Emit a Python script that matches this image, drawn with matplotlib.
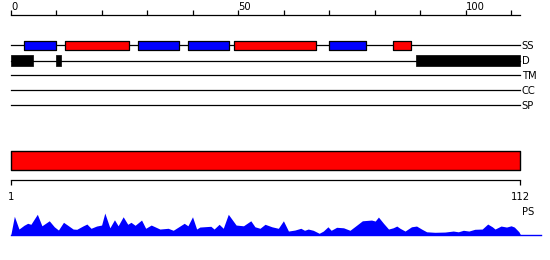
import matplotlib
matplotlib.use("Agg")
import matplotlib.pyplot as plt

# ---------- data (residue coordinates) ----------
SEQ_LEN = 112
TRACKS = ["SS", "D", "TM", "CC", "SP"]
HELIX = [(12, 26), (49, 67), (84, 88)]            # red SS segments
STRAND = [(3, 10), (28, 37), (39, 48), (70, 78)]  # blue SS segments
DISORDER = [(0, 5), (10, 11), (89, 112)]
TOP_TICKS = list(range(0, 111, 10))
TOP_LABELS = [0, 50, 100]
BOTTOM_LABELS = [1, 112]

# PS profile: (residue position, score)
PS_POS = [1.0, 1.8, 2.8, 3.9, 4.7, 5.4, 6.8, 7.8, 9.4, 10.5, 11.4, 12.5, 13.6,
          14.6, 15.4, 16.8, 17.6, 18.5, 19.7, 20.8, 21.5, 22.6, 23.6, 24.4,
          25.5, 26.5, 27.2, 28.1, 29.5, 30.4, 31.6, 33.5, 35.3, 36.4, 38.8,
          39.6, 40.6, 41.5, 42.2, 44.6, 45.3, 46.4, 47.3, 48.4, 50.1, 51.7,
          53.3, 54.2, 55.3, 56.4, 57.9, 59.3, 60.4, 61.5, 62.9, 64.2, 65.0,
          65.8, 66.9, 68.2, 69.1, 70.1, 70.8, 72.0, 73.5, 74.9, 76.4, 77.6,
          79.6, 80.4, 81.1, 82.2, 83.3, 84.3, 85.1, 85.8, 86.9, 88.3, 89.4,
          90.5, 91.6, 93.4, 95.6, 97.4, 98.5, 99.6, 100.8, 102.1, 103.7,
          104.9, 105.9, 106.5, 107.8, 109.0, 110.0, 110.7, 111.7, 112.1]
PS_VAL = [0.0, 0.76, 0.25, 0.40, 0.48, 0.44, 0.84, 0.38, 0.58, 0.34, 0.21,
          0.52, 0.38, 0.25, 0.24, 0.38, 0.45, 0.28, 0.37, 0.41, 0.89, 0.30,
          0.62, 0.38, 0.74, 0.44, 0.52, 0.40, 0.61, 0.28, 0.41, 0.25, 0.28,
          0.20, 0.48, 0.38, 0.74, 0.25, 0.33, 0.36, 0.25, 0.44, 0.28, 0.84,
          0.41, 0.38, 0.58, 0.34, 0.28, 0.44, 0.34, 0.28, 0.58, 0.17, 0.21,
          0.28, 0.20, 0.25, 0.20, 0.08, 0.17, 0.34, 0.20, 0.32, 0.30, 0.20,
          0.41, 0.58, 0.61, 0.57, 0.73, 0.48, 0.25, 0.30, 0.37, 0.28, 0.17,
          0.34, 0.37, 0.25, 0.14, 0.12, 0.13, 0.17, 0.14, 0.20, 0.17, 0.24,
          0.25, 0.45, 0.34, 0.25, 0.37, 0.33, 0.38, 0.33, 0.14, 0.0]

RED, BLUE = "#ff0000", "#0000ff"
FS = 7.2
W, H = 550, 260

fig = plt.figure(figsize=(W / 100, H / 100), dpi=100)

# ---------- top panel: residue scale 0..112 ----------
x_left, x_right = 10.7, 520.3
s_top = (x_right - x_left) / SEQ_LEN
ax = fig.add_axes([0, 0, 1, 1])
ax.set_xlim(-x_left / s_top, (W - x_left) / s_top)
ax.set_ylim(H, 0)
ax.axis("off")

ax.plot([0, SEQ_LEN], [14.7, 14.7], color="black", lw=0.9)
ax.vlines(TOP_TICKS, 10.2, 14.7, color="black", lw=0.9)
for t in TOP_LABELS:
    ax.text(t + 0.1, 9.8, str(t), ha="left", va="baseline", fontsize=FS)

rows = dict(zip(TRACKS, [45.3, 60.7, 75.3, 90.0, 105.0]))
for name, y in rows.items():
    ax.plot([0, SEQ_LEN], [y, y], color="black", lw=0.9, zorder=1)
    ax.text(SEQ_LEN + 0.3, y + 3.8, name, ha="left", va="baseline", fontsize=FS)

def segs(lst):
    return [(a, b - a) for a, b in lst]

ax.broken_barh(segs(HELIX), (rows["SS"] - 4.8, 9.8), facecolor=RED,
               edgecolor="black", lw=0.9, zorder=2)
ax.broken_barh(segs(STRAND), (rows["SS"] - 4.8, 9.8), facecolor=BLUE,
               edgecolor="black", lw=0.9, zorder=2)
ax.broken_barh(segs(DISORDER), (rows["D"] - 5.4, 10.6), facecolor="black",
               edgecolor="black", lw=0.5, zorder=2)

# ---------- lower panel: residue scale 1..112 ----------
s_bot = (x_right - x_left) / (SEQ_LEN - 1)
ax2 = fig.add_axes([0, 0, 1, 1])
ax2.set_xlim(1 - x_left / s_bot, 1 + (W - x_left) / s_bot)
ax2.set_ylim(H, 0)
ax2.axis("off")
ax2.patch.set_alpha(0)

ax2.broken_barh([(1, SEQ_LEN - 1)], (150.7, 19.6), facecolor=RED,
                edgecolor="black", lw=1.0)
ax2.plot([1, SEQ_LEN], [180.3, 180.3], color="black", lw=0.9)
ax2.vlines(BOTTOM_LABELS, 180.3, 185.2, color="black", lw=0.9)
for t in BOTTOM_LABELS:
    ax2.text(t, 200, str(t), ha="center", va="baseline", fontsize=FS)
ax2.text(SEQ_LEN + 0.3, 215, "PS", ha="left", va="baseline", fontsize=FS)

# PS profile
x_end = 541
ax3 = fig.add_axes([x_left / W, (H - 235.3) / H, (x_end - x_left) / W, 25 / H])
ax3.set_xlim(1, 1 + (x_end - x_left) / s_bot)
ax3.set_ylim(0, 1)
ax3.axis("off")
ax3.patch.set_alpha(0)
ax3.fill_between(PS_POS, PS_VAL, 0, color=BLUE, lw=0)
ax3.axhline(0, color=BLUE, lw=1.0, clip_on=False)

fig.savefig("out.png", dpi=100)
